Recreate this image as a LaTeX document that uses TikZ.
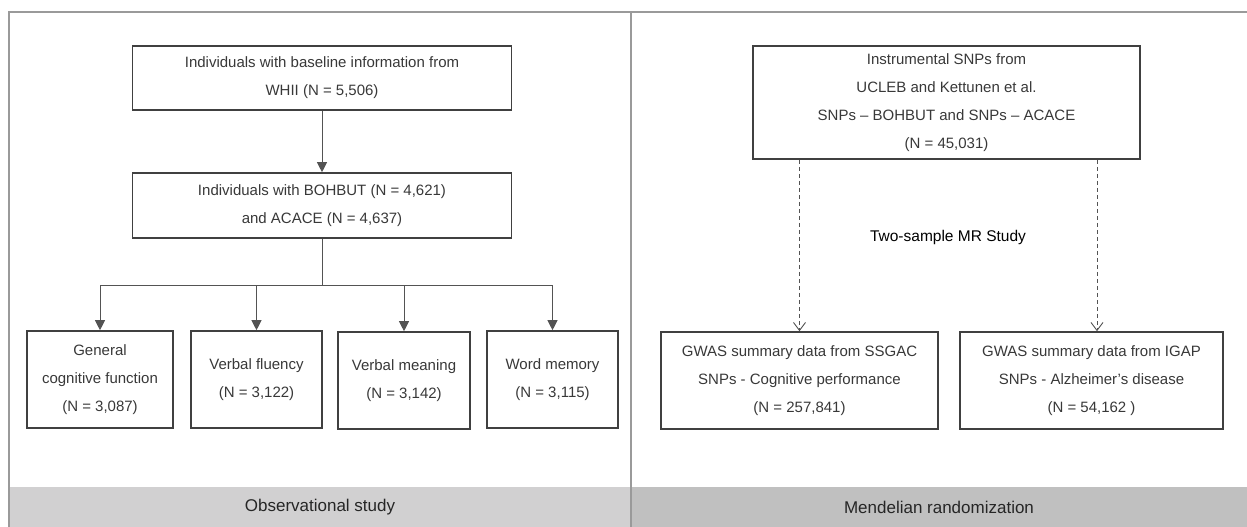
\documentclass[tikz,border=0pt]{standalone}
\usepackage{fontspec}
\setmainfont{Liberation Sans}
\usetikzlibrary{arrows.meta}
\definecolor{boxline}{HTML}{404040}
\definecolor{txtgray}{HTML}{383838}
\definecolor{framegray}{HTML}{9A9A9A}
\definecolor{bandleft}{HTML}{D1D0D1}
\definecolor{bandright}{HTML}{C0C0C0}
\tikzset{
  box/.style={draw=boxline, line width=1.6pt, inner sep=0pt, align=center,
    text=txtgray, font=\fontsize{15}{28}\selectfont},
  arr/.style={draw=boxline!90, line width=0.9pt, -{Triangle[length=10pt,width=10pt]}},
  dasharr/.style={draw=boxline!90, line width=0.9pt, dashed, dash pattern=on 4pt off 3pt,
    -{Straight Barb[length=8pt,width=12pt]}},
  bandlabel/.style={text=black!85, font=\fontsize{17}{20}\selectfont}
}
\begin{document}
\begin{tikzpicture}[x=1pt, y=-1pt]
\useasboundingbox (0,0) rectangle (1247,527);
\fill[bandleft] (9,487) rectangle (631,527);
\fill[bandright] (631,487) rectangle (1247,527);
\draw[framegray, line width=1.2pt] (9,527) -- (9,12) -- (1250,12);
\draw[framegray, line width=1.2pt] (631,12) -- (631,527);
\node[bandlabel] (obs) at (320,507) {Observational\ study};
\node[bandlabel] (mr) at (939,507) {Mendelian\ randomization};

\node[box, minimum width=379pt, minimum height=64pt] (base) at (322,78)
  {Individuals with baseline information from\\WHII (N = 5,506)};
\node[box, minimum width=379pt, minimum height=65pt] (sub) at (322,205.5)
  {Individuals with BOHBUT (N = 4,621)\\and ACACE (N = 4,637)};
\node[box, minimum width=146pt, minimum height=97pt] (gcf) at (100,379.5)
  {General\\cognitive function\\(N = 3,087)};
\node[box, minimum width=131pt, minimum height=97pt] (vf) at (256.5,379.5)
  {Verbal fluency\\(N = 3,122)};
\node[box, minimum width=132pt, minimum height=97pt] (vm) at (404,380.5)
  {Verbal meaning\\(N = 3,142)};
\node[box, minimum width=131pt, minimum height=97pt] (wm) at (552.5,379.5)
  {Word memory\\(N = 3,115)};

\draw[arr] (base) -- (sub);
\draw[boxline!90, line width=0.9pt] (sub.south) -- ++(0,47) coordinate (split);
\draw[boxline!90, line width=0.9pt] (gcf.north |- split) -- (wm.north |- split);
\foreach \n in {gcf,vf,vm,wm}
  \draw[arr] (\n.north |- split) -- (\n.north);

\node[box, minimum width=387pt, minimum height=113pt] (snps) at (946.5,102.5)
  {Instrumental SNPs from\\UCLEB and Kettunen et al.\\SNPs -- BOHBUT and SNPs -- ACACE\\(N = 45,031)};
\node[box, minimum width=277pt, minimum height=97pt] (ssgac) at (799.5,380.5)
  {GWAS summary data from SSGAC\\SNPs - Cognitive performance\\(N = 257,841)};
\node[box, minimum width=263pt, minimum height=97pt] (igap) at (1091.5,380.5)
  {GWAS summary data from IGAP\\SNPs - Alzheimer's disease\\(N = 54,162 )};
\node[text=black, font=\fontsize{15.5}{18}\selectfont] (mrs) at (948,237) {Two-sample MR Study};

\draw[dasharr] (ssgac.north |- snps.south) -- (ssgac.north);
\draw[dasharr] ([xshift=5.5pt]igap.north |- snps.south) -- ([xshift=5.5pt]igap.north);
\end{tikzpicture}
\end{document}
